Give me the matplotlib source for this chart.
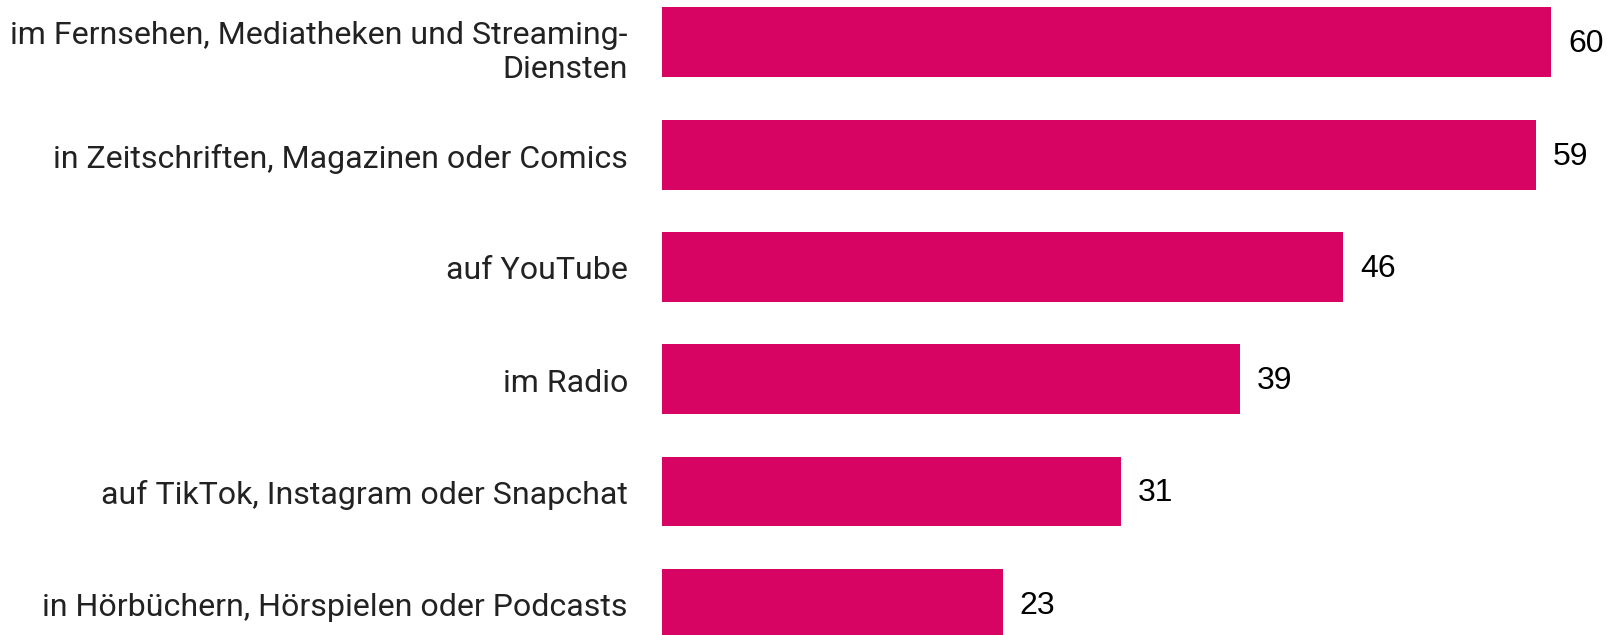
import matplotlib.pyplot as plt
from matplotlib.transforms import offset_copy

kategorien = [
    "im Fernsehen, Mediatheken und Streaming-\nDiensten",
    "in Zeitschriften, Magazinen oder Comics",
    "auf YouTube",
    "im Radio",
    "auf TikTok, Instagram oder Snapchat",
    "in Hörbüchern, Hörspielen oder Podcasts",
]
werte = [60, 59, 46, 39, 31, 23]

fig = plt.figure(figsize=(16.08, 6.35), dpi=100)
ax = fig.add_axes([661.7 / 1608, 0, 1 - 661.7 / 1608, 1])

pos = list(range(len(werte)))
ax.barh(pos, werte, height=0.623, color="#d70464")

ax.set_xlim(0, 63.85)
ax.set_ylim(5.278, -0.377)
ax.set_xticks([])
ax.set_yticks([])
for s in ax.spines.values():
    s.set_visible(False)

# Beschriftungen links
for i, k in enumerate(kategorien):
    dy = -10 if "\n" in k else -4
    tr = offset_copy(ax.transData, fig=fig, x=-33.7, y=dy, units="dots")
    ax.text(0, i, k, transform=tr, ha="right", va="center", fontfamily="Roboto",
            fontsize=23.1, color="#222222", linespacing=1.22)

# Werte rechts neben die Balken
trans = offset_copy(ax.transData, fig=fig, x=17, y=-2, units="dots")
for i, w in enumerate(werte):
    ax.text(w, i, str(w), transform=trans, va="center", ha="left",
            fontfamily="Liberation Sans", fontsize=23, color="black")

fig.savefig("out.png", dpi=100)
